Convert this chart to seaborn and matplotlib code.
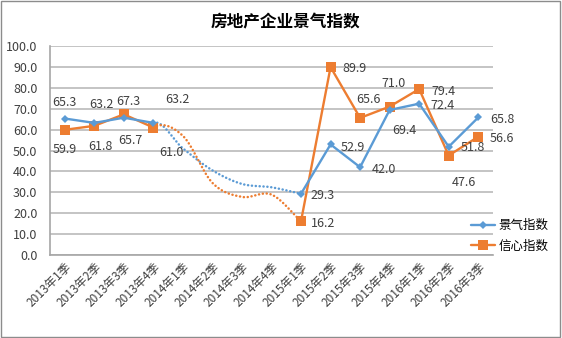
import numpy as np
import pandas as pd
import matplotlib
matplotlib.use("Agg")
import matplotlib.pyplot as plt
import seaborn as sns
from matplotlib.lines import Line2D
from matplotlib.patches import Rectangle

sns.set_theme(style="white")
plt.rcParams['font.family'] = ['Noto Sans CJK SC', 'DejaVu Sans']

# ---------------- data ----------------
categories = ["2013年1季", "2013年2季", "2013年3季", "2013年4季",
              "2014年1季", "2014年2季", "2014年3季", "2014年4季",
              "2015年1季", "2015年2季", "2015年3季", "2015年4季",
              "2016年1季", "2016年2季", "2016年3季"]
jingqi = [65.3, 63.2, 65.7, 63.2, np.nan, np.nan, np.nan, np.nan,
          29.3, 52.9, 42.0, 69.4, 72.4, 51.8, 65.8]
xinxin = [59.9, 61.8, 67.3, 61.0, np.nan, np.nan, np.nan, np.nan,
          16.2, 89.9, 65.6, 71.0, 79.4, 47.6, 56.6]
# dotted (estimated) trend through 2014, 2013年4季 .. 2015年1季
trend_idx = [3, 4, 5, 6, 7, 8]
jingqi_trend = [63.2, 51.0, 40.5, 34.0, 32.4, 29.3]
xinxin_trend = [61.0, 57.0, 34.5, 27.8, 28.9, 16.2]
series_names = ["景气指数", "信心指数"]
yticks = [0, 10, 20, 30, 40, 50, 60, 70, 80, 90, 100]

# ---------------- style ----------------
blue = "#5B9BD5"
orange = "#ED7D31"
txt = "#404040"
LW = 1.7
# label offsets in pixels (dx, dy)
off_j = [(0, 16), (7, 18), (7, -23), (24, 23), None, None, None, None,
         (22, -2), (22, -3), (24, -2), (15, -21), (23, -2), (24, -1), (24, -2)]
off_x = [(0, -20), (6, -21), (5, 13), (18, -25), None, None, None, None,
         (22, -2), (24, -1), (8, 18), (4, 23), (24, -2), (15, -27), (24, -2)]


def smooth(xs, ys, start_slope, n=30):
    xs = np.asarray(xs, float)
    ys = np.asarray(ys, float)
    m = np.zeros_like(ys)
    m[1:-1] = (ys[2:] - ys[:-2]) / 2.0
    m[0] = start_slope
    m[-1] = (ys[-1] - ys[-2])
    ox, oy = [], []
    for i in range(len(xs) - 1):
        t = np.linspace(0, 1, n, endpoint=(i == len(xs) - 2))
        h00 = 2 * t**3 - 3 * t**2 + 1
        h10 = t**3 - 2 * t**2 + t
        h01 = -2 * t**3 + 3 * t**2
        h11 = t**3 - t**2
        oy.append(h00 * ys[i] + h10 * m[i] + h01 * ys[i + 1] + h11 * m[i + 1])
        ox.append(xs[i] + t * (xs[i + 1] - xs[i]))
    return np.concatenate(ox), np.concatenate(oy)


fig = plt.figure(figsize=(5.62, 3.38), dpi=100)
ax = fig.add_axes([50 / 562, 1 - 255 / 338, 443 / 562, 209 / 338])

x = np.arange(len(categories))
df = pd.DataFrame({"x": x, "景气指数": jingqi, "信心指数": xinxin})

# dotted trend curves
for vals, col, s0 in [(jingqi_trend, blue, 5.0), (xinxin_trend, orange, 8.0)]:
    sx, sy = smooth(trend_idx, vals, s0)
    sns.lineplot(x=sx, y=sy, ax=ax, color=col, lw=1.8, sort=False,
                 linestyle=(0, (0.05, 1.5)), dash_capstyle="round")

segments = [(0, 4), (8, 15)]
for a, b in segments:
    sub = df.iloc[a:b]
    sns.lineplot(data=sub, x="x", y="信心指数", ax=ax, color=orange, lw=LW,
                 marker="s", markersize=6.5, markeredgewidth=0, zorder=3)
    sns.lineplot(data=sub, x="x", y="景气指数", ax=ax, color=blue, lw=LW,
                 marker="D", markersize=4.5, markeredgewidth=0, zorder=4)

for vals, offs in [(jingqi, off_j), (xinxin, off_x)]:
    for i, v in enumerate(vals):
        if offs[i] is None or np.isnan(v):
            continue
        ax.annotate(f"{v:.1f}", xy=(x[i], v), xytext=offs[i],
                    textcoords="offset pixels", ha="center", va="center",
                    fontsize=9, color=txt)

ax.set_xlim(-0.5, len(categories) - 0.5)
ax.set_ylim(0, 100)
ax.set_yticks(yticks)
ax.set_yticklabels([f"{t:.1f}" for t in yticks], fontsize=9, color=txt)
ax.set_xticks(x)
ax.set_xticklabels(categories, rotation=45, ha="right", rotation_mode="anchor",
                   fontsize=8.5, color=txt)
ax.tick_params(axis="both", length=0)
ax.tick_params(axis="y", pad=9)
ax.tick_params(axis="x", pad=4)
ax.set_xlabel("")
ax.set_ylabel("")
ax.yaxis.grid(True, color="#BFBFBF", lw=1.3)
ax.xaxis.grid(False)
ax.set_axisbelow(True)
for s in ["top", "right"]:
    ax.spines[s].set_visible(False)
for s in ["left", "bottom"]:
    ax.spines[s].set_color("#A6A6A6")
    ax.spines[s].set_linewidth(1.2)

fig.text(285 / 562, 1 - 22 / 338, "房地产企业景气指数", ha="center", va="center",
         fontsize=12, fontweight="bold", color="black")

handles = [Line2D([], [], color=blue, lw=LW, marker="D", markersize=4.5, markeredgewidth=0),
           Line2D([], [], color=orange, lw=LW, marker="s", markersize=6.5, markeredgewidth=0)]
fig.legend(handles, series_names, loc="center left",
           bbox_to_anchor=(470 / 562, 1 - 236 / 338), frameon=False,
           fontsize=9, handlelength=1.9, handletextpad=0.3, labelspacing=0.6,
           borderpad=0.1, borderaxespad=0.0, labelcolor="black")

fig.patches.append(Rectangle((0.002, 0.003), 0.995, 0.994, transform=fig.transFigure,
                             fill=False, edgecolor="#8C8C8C", lw=1.0))

fig.savefig("out.png", dpi=100)
